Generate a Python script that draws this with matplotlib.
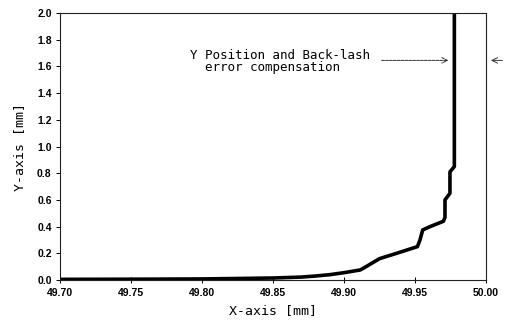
import matplotlib.pyplot as plt

x_mm = [49.700, 49.750, 49.800, 49.850, 49.870, 49.880, 49.890, 49.900,
        49.9113, 49.9136, 49.925, 49.937, 49.9517, 49.9535, 49.9554,
        49.9606, 49.970, 49.9711, 49.9711, 49.9746, 49.9746, 49.9777, 49.9777]
y_mm = [0.005, 0.006, 0.008, 0.015, 0.022, 0.030, 0.040, 0.055,
        0.075, 0.088, 0.160, 0.200, 0.250, 0.300, 0.375,
        0.400, 0.440, 0.470, 0.600, 0.650, 0.810, 0.850, 2.000]

x_ticks = [49.70, 49.75, 49.80, 49.85, 49.90, 49.95, 50.00]
y_ticks = [0.0, 0.2, 0.4, 0.6, 0.8, 1.0, 1.2, 1.4, 1.6, 1.8, 2.0]

annot_text = "Y Position and Back-lash\n  error compensation"
annot_y = 1.645

fig = plt.figure(figsize=(5.10, 3.28), dpi=100)
ax = fig.add_axes([0.1176, 0.1463, 0.8354, 0.8141])

ax.plot(x_mm, y_mm, color="black", linewidth=2.6, solid_joinstyle="round")

ax.set_xlim(49.70, 50.00)
ax.set_ylim(0.0, 2.0)
ax.set_xticks(x_ticks)
ax.set_yticks(y_ticks)
ax.set_xticklabels([f"{v:.2f}" for v in x_ticks], fontsize=7.5,
                   fontweight="bold", family="Liberation Sans")
ax.set_yticklabels([f"{v:.1f}" for v in y_ticks], fontsize=7.5,
                   fontweight="bold", family="Liberation Sans")
ax.tick_params(axis="x", direction="inout", length=4, width=0.7, pad=4)
ax.tick_params(axis="y", direction="out", length=3, width=0.7, pad=3)

for s in ax.spines.values():
    s.set_linewidth(0.8)
    s.set_color("#222")

ax.set_xlabel("X-axis [mm]", fontsize=9.5, family="DejaVu Sans Mono", labelpad=4)
ax.set_ylabel("Y-axis [mm]", fontsize=9.5, family="DejaVu Sans Mono", labelpad=8)

# подпись со стрелкой к вертикальному участку
ax.text(49.7915, annot_y - 0.01, annot_text, fontsize=9, family="DejaVu Sans Mono",
        ha="left", va="center", linespacing=0.95)
ax.annotate("", xy=(49.9755, annot_y), xytext=(49.9245, annot_y),
            arrowprops=dict(arrowstyle="->", lw=0.7, color="#333",
                            linestyle=(0, (3, 1))))
# вторая стрелка за правой рамкой
ax.annotate("", xy=(50.0015, annot_y), xytext=(50.0135, annot_y),
            arrowprops=dict(arrowstyle="->", lw=0.7, color="#333"),
            annotation_clip=False)

fig.savefig("out.png", dpi=100)
